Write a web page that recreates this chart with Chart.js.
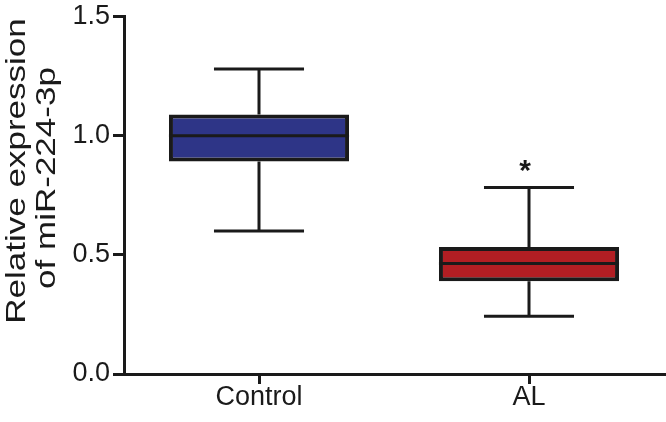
<!DOCTYPE html>
<html>
<head>
<meta charset="utf-8">
<script src="https://cdn.jsdelivr.net/npm/chart.js@4.4.1/dist/chart.umd.min.js"></script>
<style>
  html, body { margin: 0; padding: 0; background: #fff; }
  #wrap { width: 666px; height: 422px; }
</style>
</head>
<body>
<div id="wrap"><canvas id="myChart"></canvas></div>
<script>
// box plot data
const categories = ["Control", "AL"];
const mins = [0.60, 0.242];
const q1s = [0.892, 0.389];
const medians = [1.0, 0.464];
const q3s = [1.089, 0.533];
const maxs = [1.28, 0.783];
const stars = ["", "*"];
const yTicks = [0, 0.5, 1.0, 1.5];
const boxColors = ["#2e3587", "#b21e23"];

const ink = "#1a1a1a";
const fontFamily = "'Liberation Sans', Arial, Helvetica, sans-serif";

// whiskers, medians and the asterisk, placed with the chart scales
const boxExtras = {
  id: "boxExtras",
  afterDatasetsDraw(chart) {
    const ctx = chart.ctx;
    const x = chart.scales.x;
    const y = chart.scales.y;
    const bars = chart.getDatasetMeta(0).data;
    ctx.save();
    ctx.strokeStyle = ink;
    ctx.lineWidth = 3;
    for (let i = 0; i < categories.length; i++) {
      const cx = x.getPixelForValue(i);
      const half = bars[i].width / 2;
      const cap = half / 2;
      // median
      ctx.beginPath();
      ctx.moveTo(cx - half, y.getPixelForValue(medians[i]));
      ctx.lineTo(cx + half, y.getPixelForValue(medians[i]));
      // upper whisker
      ctx.moveTo(cx, y.getPixelForValue(q3s[i]));
      ctx.lineTo(cx, y.getPixelForValue(maxs[i]));
      ctx.moveTo(cx - cap, y.getPixelForValue(maxs[i]));
      ctx.lineTo(cx + cap, y.getPixelForValue(maxs[i]));
      // lower whisker
      ctx.moveTo(cx, y.getPixelForValue(q1s[i]));
      ctx.lineTo(cx, y.getPixelForValue(mins[i]));
      ctx.moveTo(cx - cap, y.getPixelForValue(mins[i]));
      ctx.lineTo(cx + cap, y.getPixelForValue(mins[i]));
      ctx.stroke();

      if (stars[i]) {
        ctx.fillStyle = ink;
        ctx.font = "bold 30px " + fontFamily;
        ctx.textAlign = "center";
        ctx.textBaseline = "middle";
        ctx.fillText(stars[i], cx - 4, y.getPixelForValue(maxs[i]) - 16);
      }
    }
    ctx.restore();
  }
};

// y axis title, two lines, stretched along its length like the figure
const yTitle = {
  id: "yTitle",
  afterDraw(chart) {
    const ctx = chart.ctx;
    const lines = [
      { text: "Relative expression", x: 25, y: 171 },
      { text: "of miR-224-3p", x: 55, y: 178 }
    ];
    ctx.save();
    ctx.fillStyle = ink;
    ctx.font = "28px " + fontFamily;
    ctx.textAlign = "center";
    ctx.textBaseline = "alphabetic";
    lines.forEach(function (l) {
      ctx.save();
      ctx.translate(l.x, l.y);
      ctx.rotate(-Math.PI / 2);
      ctx.scale(1.25, 1);
      ctx.fillText(l.text, 0, 0);
      ctx.restore();
    });
    ctx.restore();
  }
};

const ctx = document.getElementById("myChart");
new Chart(ctx, {
  type: "bar",
  data: {
    labels: categories,
    datasets: [
      {
        label: "IQR",
        data: q1s.map((v, i) => [v, q3s[i]]),
        backgroundColor: boxColors,
        borderColor: ink,
        borderWidth: 4,
        borderSkipped: false,
        barPercentage: 0.667,
        categoryPercentage: 1
      }
    ]
  },
  options: {
    responsive: true,
    maintainAspectRatio: false,
    animation: false,
    layout: { padding: { top: 14, right: 2, left: 0, bottom: 0 } },
    plugins: {
      legend: { display: false },
      tooltip: { enabled: false }
    },
    scales: {
      x: {
        offset: true,
        afterFit(scale) { scale.height = 48; },
        grid: {
          offset: false,
          drawOnChartArea: false,
          drawTicks: true,
          tickLength: 10,
          color: ink,
          lineWidth: 3
        },
        border: { color: ink, width: 3 },
        ticks: {
          color: ink,
          padding: 0,
          font: { family: fontFamily, size: 27, lineHeight: 1 }
        }
      },
      y: {
        min: 0,
        max: 1.5,
        afterFit(scale) { scale.width = 124; },
        afterBuildTicks(scale) {
          scale.ticks = yTicks.map(v => ({ value: v }));
        },
        grid: {
          drawOnChartArea: false,
          drawTicks: true,
          tickLength: 11,
          color: ink,
          lineWidth: 3
        },
        border: { color: ink, width: 3 },
        ticks: {
          color: ink,
          padding: 3,
          font: { family: fontFamily, size: 27, lineHeight: 1 },
          callback: v => Number(v).toFixed(1)
        }
      }
    }
  },
  plugins: [boxExtras, yTitle]
});
</script>
</body>
</html>
